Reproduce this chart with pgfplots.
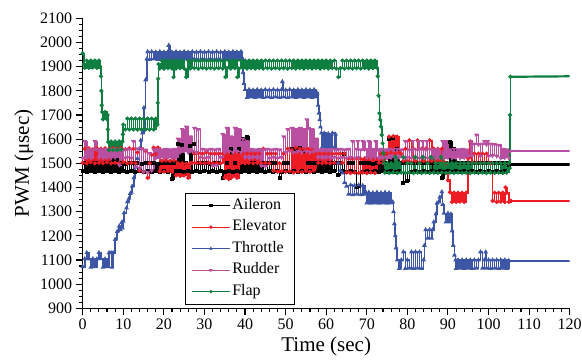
\documentclass[border=0pt]{standalone}
\usepackage{fontspec}
\setmainfont{Liberation Serif}
\usepackage{pgfplots}
\pgfplotsset{compat=1.18}
\definecolor{cA}{HTML}{000000}
\definecolor{cE}{HTML}{ED1C24}
\definecolor{cT}{HTML}{3C55A5}
\definecolor{cR}{HTML}{B84FA0}
\definecolor{cF}{HTML}{0E7F40}
\begin{document}
\begin{tikzpicture}
\useasboundingbox (-82.7pt,-51.7pt) rectangle (499.3pt,308.3pt);
\begin{axis}[
  scale only axis, width=487pt, height=290pt,
  xmin=0, xmax=120, ymin=900, ymax=2100,
  xtick={0,10,...,120}, ytick={900,1000,...,2100},
  minor x tick num=4, minor y tick num=3,
  axis x line*=bottom, axis y line*=left,
  axis line style={-, line width=1.3pt},
  tick align=outside,
  major tick length=7pt, minor tick length=4pt,
  every tick/.style={line width=1.1pt, black},
  /pgf/number format/assume math mode=true,
  /pgf/number format/1000 sep={},
  ticklabel style={font=\fontsize{16}{16}\selectfont},
  label style={font=\fontsize{21}{21}\selectfont},
  xlabel={Time (sec)}, ylabel={PWM (μsec)},
  legend style={at={(0.21,0.3976)}, anchor=north west, draw=black, line width=0.8pt,
    font=\fontsize{16}{16}\selectfont, row sep=3pt,
    nodes={text height=11pt, text depth=3.5pt, inner sep=2pt},
    inner xsep=6pt, inner ysep=3pt},
  legend cell align=left,
  legend image code/.code={\draw[mark repeat=2,mark phase=2,#1,line width=0.9pt] plot coordinates {(0pt,0pt) (19pt,0pt) (38pt,0pt)};},
  every axis plot/.append style={line width=1.6pt, mark size=1.2pt},
  tail/.style={line width=2.2pt, no marks, forget plot},
]
\addplot[cA, const plot, mark=square*] coordinates {
(0,1468)(0.5,1500)(1,1465)(1.5,1498)(2,1470)(2.5,1500)(3,1466)(3.5,1500)(4,1468)(4.5,1497)
(5,1465)(5.5,1500)(6,1470)(6.5,1500)(7,1466)(7.5,1515)(8,1468)(8.5,1515)(9,1465)(9.5,1500)
(10,1470)(10.5,1498)(11,1466)(11.5,1500)(12,1468)(12.5,1500)(13,1465)(13.5,1500)(14,1470)(14.5,1497)
(15,1466)(15.5,1500)(16,1468)(16.5,1500)(17,1465)(17.5,1500)(18,1470)(18.5,1498)(19,1466)(19.5,1500)
(20,1468)(20.5,1500)(21,1465)(21.5,1500)(22,1435)(22.5,1500)(23,1468)(23.5,1580)(24,1470)(24.5,1575)
(25,1466)(25.5,1500)(26,1468)(26.5,1570)(27,1465)(27.5,1580)(28,1470)(28.5,1500)(29,1466)(29.5,1500)
(30,1468)(30.5,1500)(31,1465)(31.5,1498)(32,1470)(32.5,1500)(33,1466)(33.5,1500)(34,1468)(34.5,1440)
(35,1465)(35.5,1500)(36,1470)(36.5,1560)(37,1466)(37.5,1500)(38,1468)(38.5,1560)(39,1465)(39.5,1600)
(40,1470)(40.5,1610)(41,1466)(41.5,1500)(42,1468)(42.5,1500)(43,1465)(43.5,1498)(44,1470)(44.5,1500)
(45,1466)(45.5,1500)(46,1468)(46.5,1500)(47,1465)(47.5,1500)(48,1470)(48.5,1440)(49,1466)(49.5,1500)
(50,1468)(50.5,1500)(51,1465)(51.5,1560)(52,1470)(52.5,1555)(53,1466)(53.5,1565)(54,1468)(54.5,1550)
(55,1465)(55.5,1500)(56,1470)(56.5,1500)(57,1466)(57.5,1500)(58,1468)(58.5,1500)(59,1465)(59.5,1498)
(60,1470)(60.5,1500)(61,1466)(61.5,1500)(62,1468)(62.5,1500)(63,1450)(63.5,1500)(64,1470)(64.5,1540)
(65,1466)(65.5,1500)(66,1468)(66.5,1500)(67,1465)(67.5,1400)(68,1405)(68.5,1500)(69,1466)(69.5,1500)
(70,1468)(70.5,1500)(71,1465)(71.5,1498)(72,1470)(72.5,1500)(73,1466)(73.5,1500)(74,1468)(74.5,1500)
(75,1465)(75.5,1600)(76,1470)(76.5,1605)(77,1466)(77.5,1560)(78,1468)(78.5,1500)(79,1420)(79.5,1500)
(80,1425)(80.5,1500)(81,1466)(81.5,1500)(82,1468)(82.5,1500)(83,1465)(83.5,1500)(84,1470)(84.5,1500)
(85,1466)(85.5,1500)(86,1468)(86.5,1500)(87,1465)(87.5,1500)(88,1470)(88.5,1440)(89,1466)(89.5,1500)
(90,1468)(90.5,1590)(91,1465)(91.5,1560)(92,1470)(92.5,1500)(93,1466)(93.5,1500)(94,1468)(94.5,1500)
(95,1465)(95.5,1500)(96,1470)(96.5,1500)(97,1466)(97.5,1500)(98,1468)(98.5,1500)(99,1465)(99.5,1500)
(100,1470)(100.5,1500)(101,1466)(101.5,1500)(102,1468)(102.5,1500)(103,1465)(103.5,1500)(104,1470)(104.5,1500)
(105,1495)};
\addlegendentry{Aileron}
\addplot[cA, tail] coordinates {(105,1495)(120,1495)};
\addplot[cE, const plot, mark=*] coordinates {
(0,1502)(0.5,1560)(1,1500)(1.5,1562)(2,1505)(2.5,1558)(3,1500)(3.5,1562)(4,1502)(4.5,1560)
(5,1500)(5.5,1562)(6,1505)(6.5,1558)(7,1500)(7.5,1562)(8,1502)(8.5,1560)(9,1500)(9.5,1562)
(10,1505)(10.5,1558)(11,1500)(11.5,1562)(12,1502)(12.5,1560)(13,1500)(13.5,1545)(14,1470)(14.5,1560)
(15,1465)(15.5,1550)(16,1440)(16.5,1500)(17,1535)(17.5,1565)(18,1538)(18.5,1565)(19,1466)(19.5,1510)
(20,1465)(20.5,1512)(21,1468)(21.5,1510)(22,1465)(22.5,1512)(23,1450)(23.5,1500)(24,1448)(24.5,1500)
(25,1450)(25.5,1498)(26,1440)(26.5,1500)(27,1502)(27.5,1540)(28,1500)(28.5,1542)(29,1502)(29.5,1540)
(30,1500)(30.5,1545)(31,1502)(31.5,1540)(32,1500)(32.5,1540)(33,1502)(33.5,1540)(34,1500)(34.5,1540)
(35,1440)(35.5,1540)(36,1435)(36.5,1530)(37,1445)(37.5,1540)(38,1440)(38.5,1535)(39,1502)(39.5,1540)
(40,1500)(40.5,1540)(41,1502)(41.5,1540)(42,1500)(42.5,1540)(43,1502)(43.5,1540)(44,1500)(44.5,1560)
(45,1502)(45.5,1540)(46,1500)(46.5,1540)(47,1470)(47.5,1540)(48,1465)(48.5,1500)(49,1468)(49.5,1540)
(50,1465)(50.5,1560)(51,1468)(51.5,1555)(52,1462)(52.5,1565)(53,1466)(53.5,1560)(54,1464)(54.5,1558)
(55,1468)(55.5,1560)(56,1465)(56.5,1555)(57,1470)(57.5,1540)(58,1502)(58.5,1540)(59,1500)(59.5,1540)
(60,1502)(60.5,1540)(61,1500)(61.5,1540)(62,1502)(62.5,1540)(63,1500)(63.5,1540)(64,1502)(64.5,1540)
(65,1462)(65.5,1520)(66,1460)(66.5,1518)(67,1462)(67.5,1520)(68,1460)(68.5,1518)(69,1462)(69.5,1520)
(70,1460)(70.5,1518)(71,1462)(71.5,1520)(72,1460)(72.5,1518)(73,1502)(73.5,1540)(74,1500)(74.5,1540)
(75,1540)(75.5,1610)(76,1545)(76.5,1612)(77,1540)(77.5,1610)(78,1545)(78.5,1540)(79,1510)(79.5,1560)
(80,1510)(80.5,1595)(81,1505)(81.5,1560)(82,1510)(82.5,1595)(83,1505)(83.5,1560)(84,1510)(84.5,1560)
(85,1505)(85.5,1595)(86,1510)(86.5,1560)(87,1505)(87.5,1560)(88,1510)(88.5,1560)(89,1505)(89.5,1500)
(90,1430)(90.5,1380)(91,1340)(91.5,1378)(92,1340)(92.5,1378)(93,1342)(93.5,1378)(94,1340)(94.5,1378)
(95,1520)(95.5,1590)(96,1505)(96.5,1540)(97,1502)(97.5,1540)(98,1500)(98.5,1540)(99,1502)(99.5,1540)
(100,1500)(100.5,1500)(101,1345)(101.5,1378)(102,1340)(102.5,1378)(103,1342)(103.5,1378)(104,1340)(104.2,1400)
(104.5,1378)(105,1340)(105.5,1345)};
\addlegendentry{Elevator}
\addplot[cE, tail] coordinates {(105.5,1345)(120,1345)};
\addplot[cT, const plot, mark=triangle*] coordinates {
(0,1072)(0.5,1105)(1,1130)(1.5,1104)(2,1070)(2.5,1105)(3,1072)(3.5,1104)(4,1130)(4.5,1105)
(5,1070)(5.5,1104)(6,1072)(6.5,1130)(7,1130)(7.2,1070)(7.5,1130)(8,1185)(8.5,1218)(9,1240)
(9.3,1225)(9.6,1255)(9.8,1232)(10,1260)(10.2,1295)(10.8,1315)(11,1340)(11.4,1355)(11.7,1375)(12,1380)
(12.2,1405)(12.6,1440)(12.9,1485)(13.5,1520)(14,1560)(14.3,1595)(14.7,1625)(15.1,1730)(15.5,1845)(15.8,1932)
(16,1962)(16.5,1930)(17,1962)(17.5,1932)(18,1960)(18.5,1930)(19,1962)(19.5,1932)(20,1960)(20.5,1930)
(21,1962)(21.2,1988)(21.5,1932)(22,1960)(22.5,1930)(23,1962)(23.5,1932)(24,1960)(24.5,1930)(25,1962)
(25.5,1932)(26,1960)(26.5,1930)(27,1962)(27.5,1932)(28,1960)(28.5,1930)(29,1962)(29.5,1932)(30,1960)
(30.5,1930)(31,1962)(31.5,1932)(32,1960)(32.5,1930)(33,1962)(33.5,1932)(34,1960)(34.5,1930)(35,1962)
(35.5,1932)(36,1960)(36.5,1930)(37,1962)(37.5,1932)(38,1960)(38.5,1930)(39,1962)(39.3,1935)(39.5,1875)
(39.7,1830)(40,1805)(40.5,1772)(41,1805)(41.5,1774)(42,1803)(42.5,1772)(43,1805)(43.5,1774)(44,1803)
(44.5,1772)(45,1805)(45.5,1774)(46,1803)(46.5,1772)(47,1805)(47.5,1774)(48,1803)(48.5,1772)(49,1805)
(49.2,1838)(49.5,1774)(50,1803)(50.5,1772)(51,1805)(51.5,1774)(52,1803)(52.5,1772)(53,1805)(53.5,1774)
(54,1803)(54.5,1772)(55,1805)(55.5,1774)(56,1803)(56.5,1772)(57,1805)(57.5,1774)(57.8,1790)(58,1740)
(58.2,1707)(58.4,1680)(58.6,1650)(58.8,1625)(59,1567)(59.5,1625)(60,1565)(60.5,1622)(61,1567)(61.5,1625)
(62,1565)(62.3,1620)(62.5,1560)(63,1500)(63.5,1470)(64,1460)(64.5,1420)(65,1405)(65.5,1372)(66,1410)
(66.5,1370)(67,1408)(67.5,1372)(68,1410)(68.5,1370)(69,1408)(69.5,1372)(69.8,1380)(70,1336)(70.5,1380)
(71,1335)(71.5,1378)(72,1336)(72.5,1380)(73,1335)(73.5,1378)(74,1336)(74.5,1380)(75,1335)(75.5,1378)
(76,1336)(76.4,1340)(76.6,1300)(76.8,1250)(77,1200)(77.2,1150)(77.5,1100)(78,1065)(78.5,1100)(79,1133)
(79.5,1065)(80,1100)(80.5,1066)(81,1133)(81.5,1065)(82,1133)(82.5,1066)(83,1133)(83.5,1065)(84,1100)
(84.2,1160)(84.5,1225)(85,1190)(85.5,1225)(86,1190)(86.2,1225)(86.5,1257)(87,1290)(87.3,1335)(87.7,1340)
(88,1360)(88.5,1382)(88.7,1330)(89,1293)(89.5,1257)(90,1293)(90.5,1257)(90.7,1290)(91,1220)(91.3,1160)
(91.6,1120)(91.9,1100)(92,1065)(92.5,1100)(93,1066)(93.5,1100)(94,1065)(94.5,1100)(95,1066)(95.5,1100)
(96,1065)(96.5,1100)(97,1066)(97.5,1100)(98,1133)(98.5,1066)(99,1100)(99.3,1133)(99.5,1066)(100,1100)
(100.5,1065)(101,1100)(101.5,1066)(102,1100)(102.5,1065)(103,1100)(103.5,1066)(104,1100)(104.5,1065)(105,1097)};
\addlegendentry{Throttle}
\addplot[cT, tail] coordinates {(105,1097)(120,1097)};
\addplot[cR, const plot, mark=triangle*, mark options={rotate=180}] coordinates {
(0,1522)(0.5,1590)(1,1524)(1.5,1558)(2,1522)(2.5,1556)(3,1590)(3.5,1558)(4,1524)(4.5,1556)
(5,1522)(5.5,1558)(6,1524)(6.5,1556)(7,1522)(7.5,1558)(8,1524)(8.5,1556)(9,1493)(9.5,1558)
(10,1522)(10.5,1556)(11,1524)(11.5,1558)(12,1522)(12.5,1590)(13,1485)(13.5,1560)(14,1480)(14.5,1560)
(15,1465)(15.5,1555)(16,1462)(16.5,1540)(17,1470)(17.5,1556)(18,1522)(18.5,1558)(19,1524)(19.5,1556)
(20,1522)(20.5,1558)(21,1524)(21.5,1556)(22,1522)(22.5,1558)(23,1524)(23.5,1600)(24,1545)(24.5,1640)
(25,1550)(25.5,1650)(26,1545)(26.5,1610)(27,1550)(27.5,1645)(28,1545)(28.5,1640)(29,1524)(29.5,1558)
(30,1522)(30.5,1556)(31,1524)(31.5,1558)(32,1490)(32.5,1556)(33,1492)(33.5,1558)(34,1524)(34.5,1620)
(35,1545)(35.5,1645)(36,1550)(36.5,1610)(37,1545)(37.5,1645)(38,1550)(38.5,1640)(39,1545)(39.5,1600)
(40,1524)(40.5,1590)(41,1522)(41.5,1558)(42,1524)(42.5,1556)(43,1522)(43.5,1558)(44,1490)(44.5,1556)
(45,1488)(45.5,1558)(46,1522)(46.5,1556)(47,1524)(47.5,1558)(48,1522)(48.5,1556)(49,1524)(49.5,1610)
(50,1545)(50.5,1640)(51,1550)(51.5,1645)(52,1545)(52.5,1640)(53,1550)(53.5,1645)(54,1545)(54.5,1640)
(55,1550)(55.2,1680)(55.5,1645)(56,1545)(56.5,1640)(57,1550)(57.5,1600)(58,1524)(58.5,1556)(59,1522)
(59.5,1558)(60,1524)(60.5,1556)(61,1522)(61.5,1558)(62,1524)(62.5,1556)(63,1522)(63.5,1558)(64,1524)
(64.5,1556)(65,1522)(65.5,1558)(66,1524)(66.5,1590)(67,1522)(67.5,1558)(67.8,1590)(68,1524)(68.5,1556)
(69,1590)(69.5,1558)(70,1524)(70.5,1590)(71,1522)(71.5,1558)(72,1524)(72.2,1590)(72.5,1556)(73,1522)
(73.5,1558)(74,1524)(74.5,1556)(75,1522)(75.5,1558)(76,1524)(76.5,1556)(77,1522)(77.5,1558)(78,1524)
(78.5,1556)(79,1522)(79.5,1590)(80,1524)(80.5,1556)(81,1522)(81.3,1590)(81.5,1558)(82,1524)(82.5,1556)
(82.8,1590)(83,1522)(83.5,1558)(83.8,1590)(84,1524)(84.5,1556)(84.8,1590)(85,1522)(85.5,1558)(86,1524)
(86.5,1556)(87,1522)(87.5,1558)(88,1524)(88.7,1590)(89,1522)(89.5,1590)(90,1524)(90.5,1556)(91,1522)
(91.5,1558)(92,1524)(92.5,1556)(93,1522)(93.5,1558)(94,1524)(94.5,1556)(95,1530)(95.6,1590)(96,1532)
(96.5,1580)(97,1617)(97.5,1578)(98,1530)(98.5,1580)(99,1590)(99.5,1578)(99.8,1590)(100,1530)(100.5,1580)
(101,1532)(101.5,1578)(102,1530)(102.5,1575)(103,1522)(103.5,1558)(104,1524)(104.5,1556)(105,1522)(105.4,1550)};
\addlegendentry{Rudder}
\addplot[cR, tail] coordinates {(105.4,1550)(120,1550)};
\addplot[cF, const plot, mark=*] coordinates {
(0,1955)(0.3,1910)(0.5,1895)(1,1925)(1.5,1895)(2,1925)(2.5,1897)(3,1925)(3.5,1895)(4,1925)
(4.3,1900)(4.5,1860)(4.6,1800)(4.7,1740)(4.8,1712)(5,1682)(5.5,1712)(6,1682)(6.1,1700)(6.2,1640)
(6.3,1588)(6.5,1555)(7,1590)(7.5,1555)(8,1590)(8.5,1555)(9,1590)(9.5,1557)(9.8,1590)(9.9,1620)
(10,1660)(10.5,1640)(11,1685)(11.5,1640)(12,1685)(12.5,1640)(13,1685)(13.5,1640)(14,1685)(14.5,1640)
(15,1685)(15.5,1640)(16,1685)(16.5,1640)(17,1685)(17.5,1640)(18,1685)(18.4,1660)(18.5,1750)(18.6,1850)
(18.7,1910)(19,1892)(19.5,1925)(20,1892)(20.5,1925)(21,1894)(21.5,1925)(22,1892)(22.4,1857)(22.5,1925)
(23,1892)(23.5,1925)(24,1894)(24.5,1925)(25,1892)(25.5,1857)(26,1925)(26.5,1892)(27,1925)(27.5,1894)
(28,1925)(28.5,1892)(29,1925)(29.5,1894)(30,1925)(30.5,1892)(31,1925)(31.5,1894)(32,1925)(32.5,1892)
(33,1925)(33.5,1894)(34,1925)(34.5,1892)(35,1925)(35.2,1857)(35.5,1894)(36,1925)(36.5,1892)(37,1925)
(37.5,1894)(38,1925)(38.1,1857)(38.5,1892)(39,1925)(39.5,1894)(40,1925)(40.5,1892)(41,1925)(41.5,1894)
(42,1925)(42.5,1892)(43,1925)(43.5,1894)(44,1925)(44.5,1892)(45,1925)(45.5,1894)(46,1925)(46.5,1892)
(47,1925)(47.5,1894)(48,1925)(48.5,1892)(49,1925)(49.5,1894)(50,1925)(50.5,1892)(51,1925)(51.5,1894)
(52,1925)(52.5,1892)(53,1925)(53.5,1894)(54,1925)(54.5,1892)(55,1925)(55.5,1894)(56,1925)(56.5,1892)
(57,1925)(57.5,1894)(58,1925)(58.5,1892)(59,1925)(59.5,1894)(60,1925)(60.5,1892)(61,1925)(61.5,1894)
(62,1925)(62.5,1892)(63,1857)(63.5,1894)(64,1925)(64.5,1892)(65,1925)(65.5,1894)(66,1925)(66.5,1892)
(67,1925)(67.5,1894)(68,1925)(68.5,1892)(69,1925)(69.5,1894)(70,1925)(70.5,1892)(71,1925)(71.5,1894)
(72,1925)(72.5,1895)(72.7,1860)(72.9,1780)(73.1,1707)(73.3,1680)(73.5,1652)(73.7,1617)(73.9,1583)(74.1,1541)
(74.3,1500)(74.5,1462)(75,1500)(75.5,1460)(76,1500)(76.5,1462)(77,1526)(77.5,1460)(78,1500)(78.5,1462)
(79,1526)(79.5,1460)(80,1500)(80.5,1462)(81,1500)(81.5,1460)(81.9,1526)(82.5,1462)(83,1500)(83.5,1460)
(83.8,1526)(84.5,1462)(85,1500)(85.5,1460)(85.8,1526)(86.5,1462)(87,1500)(87.5,1460)(88,1500)(88.3,1526)
(88.5,1462)(89,1500)(89.5,1460)(90,1500)(90.5,1462)(91,1500)(91.5,1460)(92,1500)(92.5,1462)(93,1500)
(93.5,1460)(94,1500)(94.5,1462)(95,1500)(95.5,1460)(96,1500)(96.5,1462)(97,1500)(97.5,1460)(98,1500)
(98.5,1462)(99,1500)(99.5,1460)(100,1500)(100.5,1462)(101,1500)(101.5,1460)(102,1500)(102.5,1462)(103,1500)
(103.5,1460)(104,1500)(104.5,1462)(105,1500)(105.2,1480)(105.3,1700)(105.4,1858)};
\addlegendentry{Flap}
\addplot[cF, tail] coordinates {(105.4,1858)(120,1860)};
\end{axis}
\end{tikzpicture}
\end{document}
